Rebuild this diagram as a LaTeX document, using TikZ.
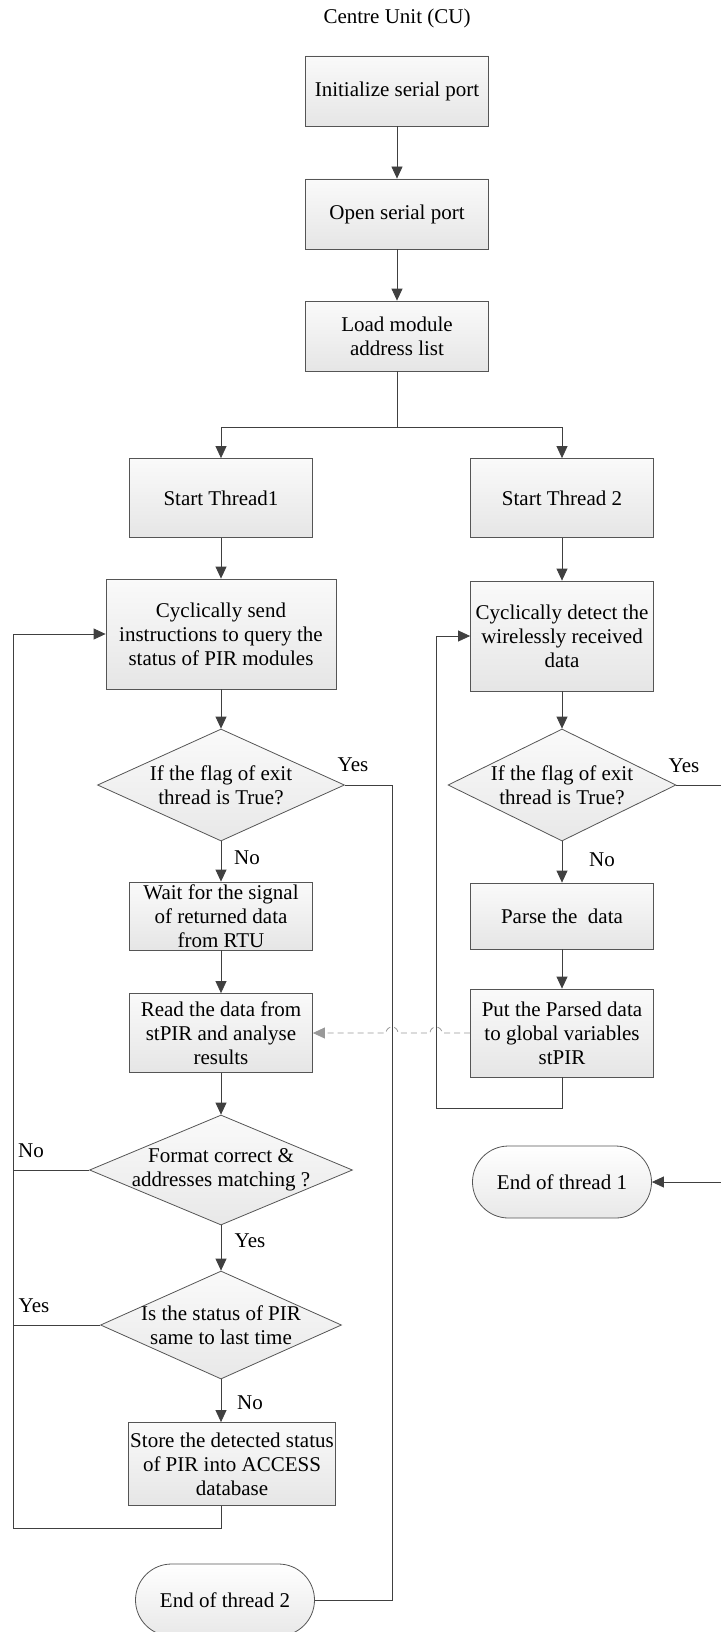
\documentclass[tikz,border=0pt]{standalone}
\usepackage{fontspec}
\setmainfont{Liberation Serif}
\usetikzlibrary{shapes.geometric,shapes.misc,arrows.meta}
\definecolor{linec}{HTML}{404040}
\definecolor{boxline}{HTML}{555555}
\definecolor{dashc}{HTML}{999999}
\begin{document}
\begin{tikzpicture}[x=1pt,y=-1pt,
  every node/.style={font=\fontsize{21}{24}\selectfont, align=center, text=black},
  proc/.style={draw=boxline, line width=0.8pt, top color=white!98!black,
    bottom color=white!90!black, minimum width=183pt, minimum height=70pt, inner sep=2pt},
  decision/.style={diamond, draw=boxline, line width=0.8pt, top color=white!98!black,
    bottom color=white!91!black, inner sep=0pt},
  terminal/.style={rounded rectangle, draw=boxline, line width=0.8pt, top color=white,
    bottom color=white!91!black, minimum width=183pt, minimum height=72pt, inner sep=2pt},
  conn/.style={draw=linec, line width=0.8pt},
  arr/.style={conn, -{Triangle[length=12pt,width=11pt]}},
  dataflow/.style={draw=dashc, line width=0.8pt, dash pattern=on 6pt off 4pt,
    -{Triangle[length=12pt,width=11pt]}}
]
\useasboundingbox (0,0) rectangle (720,1632);

% heading
\node (title) at (397,18) {Centre Unit (CU)};

% start-up sequence
\node[proc] (init) at (397,91) {Initialize serial port};
\node[proc] (open) at (397,214) {Open serial port};
\node[proc] (load) at (397,336) {Load module\\address list};
\coordinate (fork) at (397,427);

% thread 1 (query)
\node[proc, minimum height=79pt] (st1) at (221,498) {Start Thread1};
\node[proc, minimum width=230pt, minimum height=110pt] (send) at (221,634)
  {Cyclically send\\instructions to query the\\status of PIR modules};
\node[decision, minimum width=247pt, minimum height=112pt,
  label={center:If the flag of exit\\thread is True?}] (exit1) at (221,785) {};
\node[proc, minimum height=68pt] (wait) at (221,916)
  {\fontsize{21}{23}\selectfont Wait for the signal\\of returned data\\from RTU};
\node[proc, minimum height=79pt] (read) at (221,1033)
  {\fontsize{21}{23}\selectfont Read the data from\\stPIR and analyse\\results};
\node[decision, minimum width=263pt, minimum height=110pt,
  label={center:Format correct \&\\addresses matching ?}] (fmt) at (221,1170) {};
\node[decision, minimum width=241pt, minimum height=108pt,
  label={center:Is the status of PIR\\same to last time}] (same) at (221,1325) {};
\node[proc, minimum width=207pt, minimum height=83pt] (store) at (232,1464)
  {Store the detected status\\of PIR into ACCESS\\database};
\node[terminal] (end2) at (225,1600) {End of thread 2};

% thread 2 (receive)
\node[proc, minimum height=79pt] (st2) at (562,498) {Start Thread 2};
\node[proc, minimum height=110pt] (detect) at (562,636)
  {\fontsize{21}{23}\selectfont Cyclically detect the\\wirelessly received\\data};
\node[decision, minimum width=228pt, minimum height=112pt,
  label={center:If the flag of exit\\thread is True?}] (exit2) at (562,785) {};
\node[proc, minimum height=66pt] (parse) at (562,916) {Parse the~ data};
\node[proc, minimum height=88pt] (put) at (562,1033)
  {\fontsize{21}{23}\selectfont Put the Parsed data\\to global variables\\stPIR};
\node[terminal] (end1) at (562,1182) {End of thread 1};

% branch labels
\node (y1) at (353,765) {Yes};
\node (n1) at (247,858) {No};
\node (y2) at (684,766) {Yes};
\node (n2) at (602,860) {No};
\node (n3) at (31,1151) {No};
\node (y3) at (250,1241) {Yes};
\node (y4) at (34,1306) {Yes};
\node (n4) at (250,1403) {No};

% routing points
\coordinate (loopL) at (13,1528);
\coordinate (loopR) at (436,1108);
\coordinate (exitR1) at (392,785);
\coordinate (exitR2) at (721,785);
\coordinate (jumpA) at (442,1033);
\coordinate (jumpB) at (398,1033);

% main sequence
\draw[arr] (init) -- (open);
\draw[arr] (open) -- (load);
\draw[conn] (load.south) -- (fork);
\draw[arr] (fork) -| (st1.north);
\draw[arr] (fork) -| (st2.north);

% thread 1 flow
\draw[arr] (st1) -- (send);
\draw[arr] (send) -- (exit1);
\draw[arr] (exit1) -- (wait);
\draw[arr] (wait) -- (read);
\draw[arr] (read) -- (fmt);
\draw[arr] (fmt) -- (same);
\draw[arr] (same.south) -- (same.south |- store.north);
\draw[arr] (store.south -| same.south) |- (loopL) |- (send.west);
\draw[conn] (fmt.west) -- (fmt.west -| loopL);
\draw[conn] (same.west) -- (same.west -| loopL);
\draw[conn] (exit1.east) -- (exitR1) |- (end2.east);

% thread 2 flow
\draw[arr] (st2) -- (detect);
\draw[arr] (detect) -- (exit2);
\draw[arr] (exit2) -- (parse);
\draw[arr] (parse) -- (put);
\draw[arr] (put.south) |- (loopR) |- (detect.west);
\draw[arr] (exit2.east) -- (exitR2) |- (end1.east);

% shared data stPIR
\draw[dataflow] (put.west) -- (jumpA) arc[start angle=0, end angle=-180, radius=6]
  -- (jumpB) arc[start angle=0, end angle=-180, radius=6] -- (read.east);
\end{tikzpicture}
\end{document}
